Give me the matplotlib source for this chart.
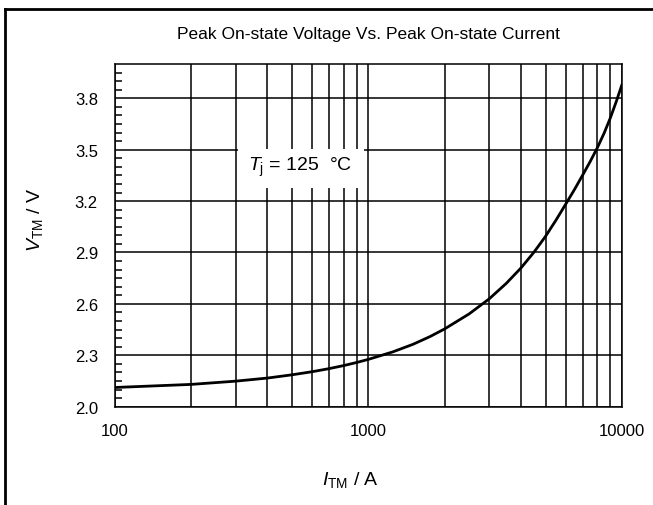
import matplotlib
matplotlib.use('Agg')
import matplotlib.pyplot as plt
from matplotlib.lines import Line2D
from matplotlib.patches import Rectangle
import numpy as np

plt.rcParams['font.family'] = ['Liberation Sans', 'DejaVu Sans']
plt.rcParams['mathtext.fontset'] = 'custom'
plt.rcParams['mathtext.rm'] = 'Liberation Sans'
plt.rcParams['mathtext.it'] = 'Liberation Sans:italic'

# values
current = [100, 200, 300, 400, 500, 600, 700, 800, 900, 1000, 1250, 1500, 1750,
           2000, 2500, 3000, 3500, 4000, 4500, 5000, 5500, 6000, 6500,
           7000, 7500, 8000, 8500, 9000, 9500, 10000]
voltage = [2.112, 2.130, 2.149, 2.167, 2.186, 2.204, 2.222, 2.240, 2.258, 2.276, 2.320, 2.364, 2.409,
           2.454, 2.542, 2.630, 2.720, 2.810, 2.902, 2.995, 3.090, 3.182, 3.268,
           3.352, 3.432, 3.512, 3.596, 3.686, 3.782, 3.880]

y_ticks = [2.0, 2.3, 2.6, 2.9, 3.2, 3.5, 3.8]
x_ticks = [100, 1000, 10000]
x_labels = ['100', '1000', '10000']

fig = plt.figure(figsize=(6.53, 5.06), dpi=100)
ax = fig.add_axes([0.1755, 0.1943, 0.7770, 0.6772])

ax.set_xscale('log')
ax.set_xlim(100, 10000)
ax.set_ylim(2.0, 4.0)

ax.set_yticks(y_ticks)
ax.set_yticklabels(['%.1f' % v for v in y_ticks])
ax.set_yticks(np.arange(2.0, 4.0, 0.05), minor=True)
ax.set_xticks(x_ticks)
ax.set_xticklabels(x_labels)

ax.grid(True, which='major', axis='y', color='black', lw=1.1)
ax.grid(True, which='both', axis='x', color='black', lw=1.1)
ax.tick_params(axis='y', which='major', length=0, pad=12, labelsize=12)
ax.tick_params(axis='y', which='minor', direction='in', length=5, width=1.1)
ax.tick_params(axis='x', which='both', length=0, pad=12, labelsize=12)
ax.xaxis.set_minor_formatter(plt.NullFormatter())
for s in ax.spines.values():
    s.set_linewidth(1.1)

ax.plot(current, voltage, color='black', lw=2, zorder=4, solid_joinstyle='round')

# white box behind the temperature note
ax.add_patch(Rectangle((306, 3.276), 962 - 306, 3.506 - 3.276,
                       facecolor='white', edgecolor='none', zorder=3, clip_on=False))
ax.text(540, 3.40, r'$T_{\mathrm{j}}$ = 125  °C', fontsize=14,
        ha='center', va='center', zorder=5)

fig.text(0.5636, 1 - 35 / 506, 'Peak On-state Voltage Vs. Peak On-state Current',
         ha='center', va='center', fontsize=12.5)
fig.text(35 / 653, 1 - 220 / 506, r'$V_{\mathrm{TM}}$ / V', rotation=90,
         ha='center', va='center', fontsize=14)
fig.text(350 / 653, 1 - 480 / 506, r'$I_{\mathrm{TM}}$ / A',
         ha='center', va='center', fontsize=14)

# outer frame (top and left edges)
fig.add_artist(Line2D([5 / 653, 1], [1 - 9.5 / 506, 1 - 9.5 / 506], color='black', lw=2))
fig.add_artist(Line2D([5 / 653, 5 / 653], [0, 1 - 9.5 / 506], color='black', lw=2))

fig.savefig('out.png', dpi=100)
